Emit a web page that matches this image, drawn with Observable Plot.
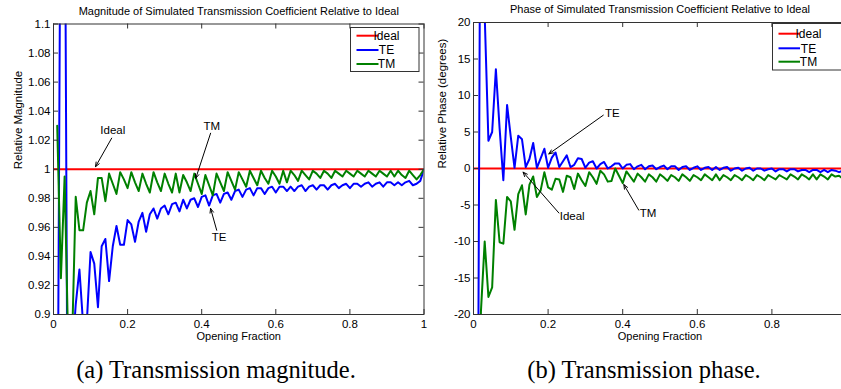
<!DOCTYPE html>
<html><head><meta charset="utf-8">
<script src="https://cdn.jsdelivr.net/npm/d3@7"></script>
<script src="https://cdn.jsdelivr.net/npm/@observablehq/plot@0.6"></script>
<style>
html,body{margin:0;padding:0;background:#fff;}
#root{position:relative;width:841px;height:389px;overflow:hidden;background:#fff;}
.panel{position:absolute;top:0;width:430px;height:345px;}
.panel svg{max-width:none !important;display:block;background:transparent !important;}
.caption{position:absolute;top:355px;font-family:"Liberation Serif","Times New Roman",serif;font-size:24.5px;line-height:30px;color:#000;white-space:nowrap;transform:translateX(-50%);}
</style></head><body>
<div id="root">
<div id="left" class="panel" style="left:0"></div>
<div id="right" class="panel" style="left:420px"></div>
<div class="caption" style="left:216px">(a) Transmission magnitude.</div>
<div class="caption" style="left:644px">(b) Transmission phase.</div>
</div>
<script>
// Sample grid (opening fraction)
const xs = [0.01,0.02,0.03,0.04,0.05,0.06,0.07,0.08,0.09,0.10,
0.11,0.12,0.13,0.14,0.15,0.16,0.17,0.18,0.19,0.20,
0.21,0.22,0.23,0.24,0.25,0.26,0.27,0.28,0.29,0.30,
0.31,0.32,0.33,0.34,0.35,0.36,0.37,0.38,0.39,0.40,
0.41,0.42,0.43,0.44,0.45,0.46,0.47,0.48,0.49,0.50,
0.51,0.52,0.53,0.54,0.55,0.56,0.57,0.58,0.59,0.60,
0.61,0.62,0.63,0.64,0.65,0.66,0.67,0.68,0.69,0.70,
0.71,0.72,0.73,0.74,0.75,0.76,0.77,0.78,0.79,0.80,
0.81,0.82,0.83,0.84,0.85,0.86,0.87,0.88,0.89,0.90,
0.91,0.92,0.93,0.94,0.95,0.96,0.97,0.98,0.99,1.00];

// Relative magnitude, TE
const teMag = [0.750,1.250,1.250,0.700,0.870,0.907,0.931,0.893,0.895,0.943,
0.935,0.905,0.947,0.952,0.923,0.947,0.961,0.948,0.948,0.965,
0.962,0.950,0.964,0.970,0.957,0.969,0.973,0.966,0.973,0.975,
0.969,0.976,0.977,0.971,0.979,0.973,0.979,0.980,0.974,0.981,
0.982,0.975,0.982,0.983,0.977,0.983,0.984,0.979,0.985,0.986,
0.981,0.986,0.987,0.982,0.987,0.987,0.983,0.987,0.988,0.984,
0.988,0.988,0.985,0.988,0.985,0.988,0.989,0.985,0.988,0.989,
0.986,0.989,0.989,0.986,0.989,0.990,0.987,0.989,0.990,0.987,
0.990,0.990,0.988,0.990,0.991,0.988,0.990,0.991,0.988,0.991,
0.991,0.989,0.991,0.989,0.991,0.992,0.989,0.990,0.992,1.000];

// Relative magnitude, TM
const tmMag = [1.030,0.925,0.995,0.875,0.880,0.981,0.958,0.958,0.977,0.985,
0.969,0.994,0.994,0.978,0.997,0.990,0.983,0.998,0.993,0.987,
0.998,0.991,0.985,0.997,0.990,0.984,0.998,0.991,0.985,0.997,
0.990,0.984,0.997,0.984,0.996,0.991,0.985,0.997,0.990,0.983,
0.996,0.989,0.982,0.997,0.991,0.985,0.998,0.992,0.986,0.998,
0.993,0.988,0.999,0.994,0.989,0.999,0.994,0.990,0.999,0.995,
0.990,0.999,0.991,0.999,0.996,0.992,0.999,0.996,0.993,0.999,
0.997,0.994,0.999,0.997,0.994,0.999,0.997,0.995,0.999,0.997,
0.995,0.999,0.997,0.995,0.999,0.997,0.995,0.999,0.997,0.995,
0.999,0.995,0.999,0.996,0.994,0.999,0.996,0.993,0.996,1.000];

// Relative phase (degrees), TE
const tePhase = [-60,60,21,3.8,5.0,13.6,5.5,-1.6,8.7,4.3,
0.1,4.5,4.0,0.2,1.3,3.5,0.1,1.4,2.7,0.1,
1.5,2.2,0.2,1.0,1.8,0.2,0.5,1.4,1.3,0.1,
0.8,1.0,0.0,0.6,0.9,0.0,0.3,0.7,0.7,0.0,
0.5,0.6,-0.1,0.3,0.5,-0.1,0.3,0.4,-0.1,0.2,
0.4,-0.1,0.3,0.3,-0.2,0.2,0.3,-0.2,0.1,0.3,
-0.2,0.1,0.2,-0.2,0.2,-0.2,0.1,0.2,-0.3,0.0,
0.1,-0.3,0.0,0.1,-0.3,0.0,0.0,-0.3,-0.1,0.0,
-0.4,-0.1,-0.1,-0.4,-0.1,-0.1,-0.4,-0.2,-0.2,-0.5,
-0.2,-0.2,-0.5,-0.2,-0.5,-0.2,-0.3,-0.5,-0.3,-0.3];

// Relative phase (degrees), TM
const tmPhase = [-40,-19.5,-10.0,-17.6,-16.3,-4.3,-10.1,-10.3,-3.9,-4.5,
-8.4,-3.5,-2.3,-6.3,-2.2,-1.1,-3.9,-3.0,-0.5,-2.6,
-2.9,-1.4,-1.5,-3.2,-1.0,-1.2,-2.8,-0.7,-1.6,-2.4,
-0.5,-1.2,-2.1,-0.3,-0.8,-1.8,-1.7,0.0,-1.0,-2.0,
-0.4,-1.1,-1.8,-0.7,-1.2,-1.8,-0.8,-1.2,-1.8,-0.8,
-1.2,-1.7,-0.9,-1.2,-1.7,-0.8,-1.2,-1.7,-0.9,-1.2,
-1.6,-0.8,-1.2,-1.6,-0.8,-1.6,-0.9,-1.2,-1.6,-0.9,
-1.2,-1.6,-0.9,-1.2,-1.6,-0.9,-1.2,-1.6,-0.9,-1.2,
-1.5,-0.9,-1.2,-1.5,-0.8,-1.1,-1.5,-0.8,-1.1,-1.5,
-0.8,-1.5,-0.8,-1.1,-1.5,-0.8,-1.1,-1.0,-1.4,-1.0];

// Ideal reference
const idealX = [0, 1];
const idealMag = [1, 1];
const idealPhase = [0, 0];

// Tick labels
const xTicks = [0, 0.2, 0.4, 0.6, 0.8, 1];
const magXTickLabels = ["0", "0.2", "0.4", "0.6", "0.8", "1"];
const phaseXTickLabels = ["0", "0.2", "0.4", "0.6", "0.8"];
const magTicks = [0.9, 0.92, 0.94, 0.96, 0.98, 1, 1.02, 1.04, 1.06, 1.08, 1.1];
const magTickLabels = ["0.9", "0.92", "0.94", "0.96", "0.98", "1", "1.02", "1.04", "1.06", "1.08", "1.1"];
const phaseTicks = [-20, -15, -10, -5, 0, 5, 10, 15, 20];
const phaseTickLabels = ["-20", "-15", "-10", "-5", "0", "5", "10", "15", "20"];

// Annotations (data coordinates)
const magNotes = [
  {label: "Ideal", tx: 0.160, ty: 1.0268, x1: 0.157, y1: 1.0214, x2: 0.1135, y2: 1.0018},
  {label: "TM", tx: 0.427, ty: 1.0294, x1: 0.424, y1: 1.0248, x2: 0.384, y2: 0.9938},
  {label: "TE", tx: 0.447, ty: 0.953, x1: 0.4405, y1: 0.958, x2: 0.424, y2: 0.973}
];
const phaseNotes = [
  {label: "TE", tx: 0.372, ty: 7.5, x1: 0.348, y1: 7.3, x2: 0.202, y2: 2.0},
  {label: "Ideal", tx: 0.2645, ty: -6.6, x1: 0.229, y1: -6.1, x2: 0.133, y2: -0.5},
  {label: "TM", tx: 0.468, ty: -6.1, x1: 0.443, y1: -5.7, x2: 0.403, y2: -2.2}
];

const legendLabels = ["Ideal", "TE", "TM"];
const colors = {Ideal: "#ff0000", TE: "#0000ff", TM: "#008000"};
const FONT = '"Liberation Sans", Arial, Helvetica, sans-serif';

function panel(cfg) {
  const {width, height, mL, mR, mT, mB} = cfg;
  const W = width - mL - mR, H = height - mT - mB;
  const rows = xs.map((x, i) => ({x, te: cfg.te[i], tm: cfg.tm[i]}));
  const idealRows = idealX.map((x, i) => ({x, y: cfg.ideal[i]}));
  const yLab = cfg.yTicks.map((v, i) => ({v, t: cfg.yTickLabels[i]}));
  const xLab = cfg.xTickLabels.map((t, i) => ({v: xTicks[i], t}));
  const axisColor = "#333";
  const plot = Plot.plot({
    width, height,
    marginLeft: mL, marginRight: mR, marginTop: mT, marginBottom: mB,
    style: {fontFamily: FONT, fontSize: "11px", color: "#000", background: "transparent", overflow: "visible"},
    x: {domain: [0, 1], axis: null},
    y: {domain: cfg.yDomain, axis: null},
    marks: [
      Plot.line(idealRows, {x: "x", y: "y", stroke: colors.Ideal, strokeWidth: 2, clip: true}),
      Plot.line(rows, {x: "x", y: "te", stroke: colors.TE, strokeWidth: 2, clip: true}),
      Plot.line(rows, {x: "x", y: "tm", stroke: colors.TM, strokeWidth: 2, clip: true}),
      Plot.frame({stroke: axisColor}),
      Plot.tickY(cfg.yTicks, {y: d => d, insetRight: W - 5, stroke: axisColor}),
      Plot.tickY(cfg.yTicks, {y: d => d, insetLeft: W - 5, stroke: axisColor}),
      Plot.tickX(xTicks, {x: d => d, insetTop: H - 5, stroke: axisColor}),
      Plot.tickX(xTicks, {x: d => d, insetBottom: H - 5, stroke: axisColor}),
      Plot.text(yLab, {y: "v", text: "t", frameAnchor: "left", textAnchor: "end", lineAnchor: "middle", dx: -3, fontSize: 11.5}),
      Plot.text(xLab, {x: "v", text: "t", frameAnchor: "bottom", lineAnchor: "middle", dy: 10, fontSize: 11.5}),
      Plot.arrow(cfg.notes, {x1: "x1", y1: "y1", x2: "x2", y2: "y2", stroke: "#000", strokeWidth: 1, headLength: 7, headAngle: 45}),
      Plot.text(cfg.notes, {x: "tx", y: "ty", text: "label", fontSize: 11.5}),
      Plot.text([cfg.title], {frameAnchor: "top", lineAnchor: "middle", dy: cfg.titleDy, fontSize: 11}),
      Plot.text([cfg.yLabel], {frameAnchor: "left", lineAnchor: "middle", dx: cfg.yLabelDx, rotate: -90, fontSize: 11.5}),
      Plot.text(["Opening Fraction"], {frameAnchor: "bottom", lineAnchor: "middle", dy: 22, fontSize: 11})
    ]
  });
  // Legend box
  const L = cfg.legend;
  const g = d3.select(plot).append("g").attr("font-family", FONT).attr("font-size", 12);
  g.append("rect").attr("x", L.x).attr("y", L.y).attr("width", L.w).attr("height", L.h)
    .attr("fill", "white").attr("stroke", axisColor);
  legendLabels.forEach((lab, i) => {
    g.append("line").attr("x1", L.lx1).attr("x2", L.lx2).attr("y1", L.rows[i]).attr("y2", L.rows[i])
      .attr("stroke", colors[lab]).attr("stroke-width", 2);
    g.append("text").attr("x", L.tx).attr("y", L.rows[i]).attr("dy", "0.36em").text(lab);
  });
  document.getElementById(cfg.el).appendChild(plot);
}

panel({
  el: "left", width: 430, height: 345, mL: 53, mR: 6.5, mT: 23.5, mB: 31,
  yDomain: [0.9, 1.1], yTicks: magTicks, yTickLabels: magTickLabels, xTickLabels: magXTickLabels,
  te: teMag, tm: tmMag, ideal: idealMag, notes: magNotes,
  title: "Magnitude of Simulated Transmission Coefficient Relative to Ideal", titleDy: -13,
  yLabel: "Relative Magnitude", yLabelDx: -35,
  legend: {x: 350.5, y: 27.5, w: 68.5, h: 44, lx1: 356.5, lx2: 378.5, tx: 386.5, rows: [35.7, 50, 64]}
});
panel({
  el: "right", width: 430, height: 345, mL: 53, mR: 4, mT: 22, mB: 31,
  yDomain: [-20, 20], yTicks: phaseTicks, yTickLabels: phaseTickLabels, xTickLabels: phaseXTickLabels,
  te: tePhase, tm: tmPhase, ideal: idealPhase, notes: phaseNotes,
  title: "Phase of Simulated Transmission Coefficient Relative to Ideal", titleDy: -13.3,
  yLabel: "Relative Phase (degrees)", yLabelDx: -31,
  legend: {x: 352.5, y: 23.5, w: 80, h: 46.5, lx1: 358.5, lx2: 380, tx: 388.5, rows: [33.7, 48.3, 61.7]}
});
</script>
</body></html>
